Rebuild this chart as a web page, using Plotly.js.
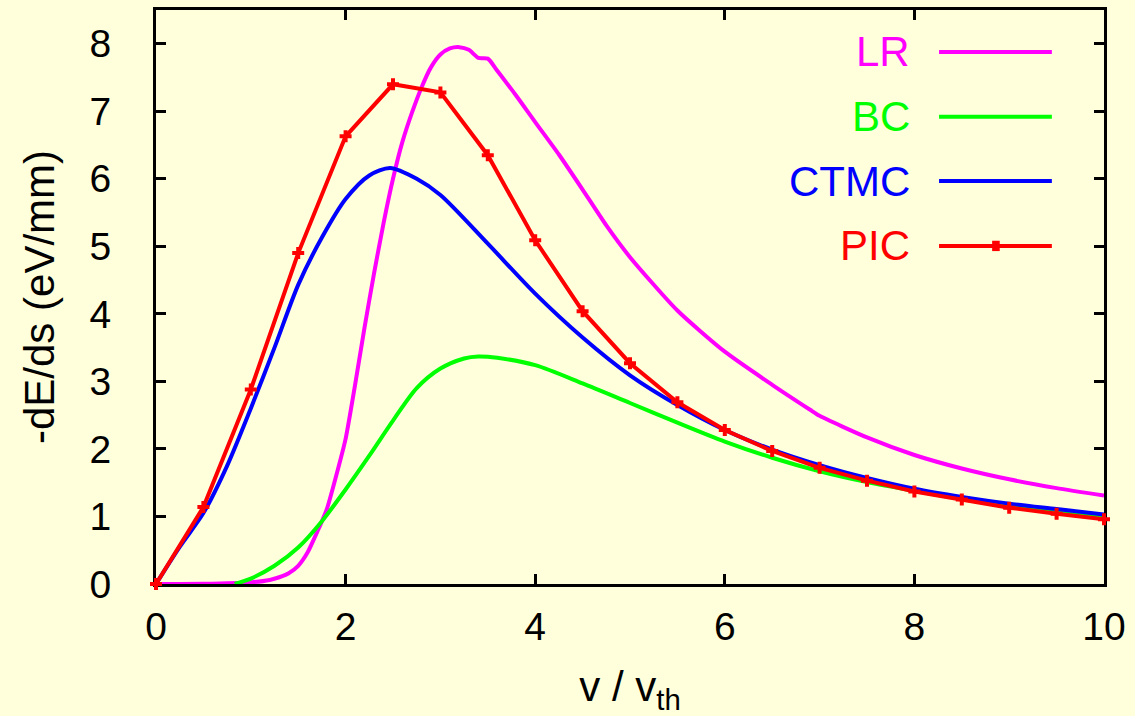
<!DOCTYPE html>
<html>
<head>
<meta charset="utf-8">
<script src="https://cdn.plot.ly/plotly-3.0.1.min.js"></script>
<style>html,body{margin:0;padding:0;background:#ffffdc;}#chart{width:1135px;height:716px;}</style>
</head>
<body>
<div id="chart"></div>
<script>
// LR curve
const vLR = [0,0.5,1.0,1.2,1.3,1.4,1.5,1.6,1.7,1.8,1.9,2.0,2.1,2.2,2.3,2.4,2.5,2.6,2.7,2.8,2.9,3.0,3.1,3.2,3.3,3.4,3.5,3.6,3.8,4.0,4.25,4.5,4.75,5.0,5.5,6.0,6.5,6.9,7.0,7.5,8.0,8.5,9.0,9.5,10];
const LR  = [0,0.002,0.025,0.06,0.1,0.16,0.27,0.47,0.77,1.1,1.6,2.15,2.95,3.8,4.6,5.34,6.0,6.55,6.98,7.35,7.65,7.84,7.93,7.95,7.91,7.79,7.78,7.6,7.23,6.84,6.36,5.84,5.31,4.84,4.05,3.44,2.95,2.58,2.49,2.17,1.91,1.71,1.55,1.42,1.31];
// BC curve
const vBC = [0.83,1.0,1.25,1.5,1.75,2.0,2.25,2.5,2.75,3.0,3.25,3.4,3.6,4.0,4.5,5.0,5.5,6.0,6.5,7.0,7.5,8.0,8.5,9.0,9.5,10];
const BC  = [0,0.08,0.27,0.54,0.93,1.4,1.9,2.42,2.9,3.19,3.34,3.37,3.35,3.24,2.97,2.68,2.39,2.11,1.87,1.67,1.51,1.38,1.26,1.15,1.06,0.98];
// CTMC curve
const vCT = [0,0.25,0.5,0.75,1.0,1.25,1.5,1.75,2.0,2.25,2.47,2.75,3.0,3.5,4.0,4.5,5.0,5.5,6.0,6.5,7.0,7.5,8.0,8.5,9.0,9.5,10];
const CT  = [0,0.55,1.05,1.75,2.6,3.5,4.43,5.13,5.7,6.05,6.16,6.0,5.76,5.04,4.3,3.65,3.09,2.65,2.28,1.99,1.76,1.57,1.41,1.29,1.19,1.11,1.03];
// PIC points
const vPIC = [0,0.5,1,1.5,2,2.5,3,3.5,4,4.5,5,5.5,6,6.5,7,7.5,8,8.5,9,9.5,10];
const PIC  = [0,1.14,2.88,4.9,6.63,7.4,7.28,6.35,5.09,4.04,3.27,2.69,2.28,1.97,1.72,1.53,1.37,1.25,1.13,1.04,0.96];

const names = ['LR','BC','CTMC','PIC'];
const colors = ['#ff00ff','#00ff00','#0000ff','#ff0000'];
const xTicks = [0,2,4,6,8,10];
const yTicks = [0,1,2,3,4,5,6,7,8];

const traces = [
  {x:vLR, y:LR, name:names[0], mode:'lines', line:{color:colors[0], width:4, shape:'spline', smoothing:0.6}},
  {x:vBC, y:BC, name:names[1], mode:'lines', line:{color:colors[1], width:4, shape:'spline', smoothing:0.8}},
  {x:vCT, y:CT, name:names[2], mode:'lines', line:{color:colors[2], width:4, shape:'spline', smoothing:0.8}},
  {x:vPIC, y:PIC, name:names[3], mode:'lines+markers', line:{color:colors[3], width:4},
   marker:{symbol:'cross', size:10, color:colors[3], line:{width:0}}, cliponaxis:false}
].map(t => Object.assign(t, {showlegend:false, hoverinfo:'skip'}));

// manual gnuplot-style key (text left of sample)
const keyY = [0.927, 0.814, 0.702, 0.589];
const annotations = names.map((n,i) => ({
  xref:'paper', yref:'paper', x:0.797, y:keyY[i], xanchor:'right', yanchor:'middle',
  text:n, showarrow:false, font:{family:'Liberation Sans, Arial, sans-serif', size:42, color:colors[i]}
}));
const shapes = names.map((n,i) => ({
  type:'line', xref:'paper', yref:'paper', x0:0.826, x1:0.945, y0:keyY[i], y1:keyY[i],
  line:{color:colors[i], width:4}
}));
shapes.push({type:'rect', xref:'paper', yref:'paper', x0:0.882, x1:0.890, y0:keyY[3]-0.009, y1:keyY[3]+0.009,
  fillcolor:colors[3], line:{width:0}});

const font = {family:'Liberation Sans, Arial, sans-serif', size:39, color:'#000'};
const layout = {
  width:1135, height:716,
  margin:{l:156, r:31, t:10, b:132},
  paper_bgcolor:'#ffffdc', plot_bgcolor:'#ffffdc',
  font:font,
  xaxis:{range:[0,10], tickvals:xTicks, ticktext:xTicks.map(String), ticks:'inside', ticklen:10, tickwidth:3,
    tickcolor:'#000', showline:true, linecolor:'#000', linewidth:3, mirror:'ticks', showgrid:false, zeroline:false,
    ticklabelstandoff:6, layer:'below traces',
    title:{text:'v / v<sub>th</sub>', font:{size:42}, standoff:30}},
  yaxis:{range:[0,8.5], tickvals:yTicks, ticktext:yTicks.map(String), ticks:'inside', ticklen:10, tickwidth:3,
    tickcolor:'#000', showline:true, linecolor:'#000', linewidth:3, mirror:'ticks', showgrid:false, zeroline:false,
    ticklabelstandoff:34, layer:'below traces',
    title:{text:'-dE/ds (eV/mm)', font:{size:42}, standoff:22}},
  annotations:annotations,
  shapes:shapes,
  showlegend:false
};
Plotly.newPlot('chart', traces, layout, {displayModeBar:false, staticPlot:true});
</script>
</body>
</html>
